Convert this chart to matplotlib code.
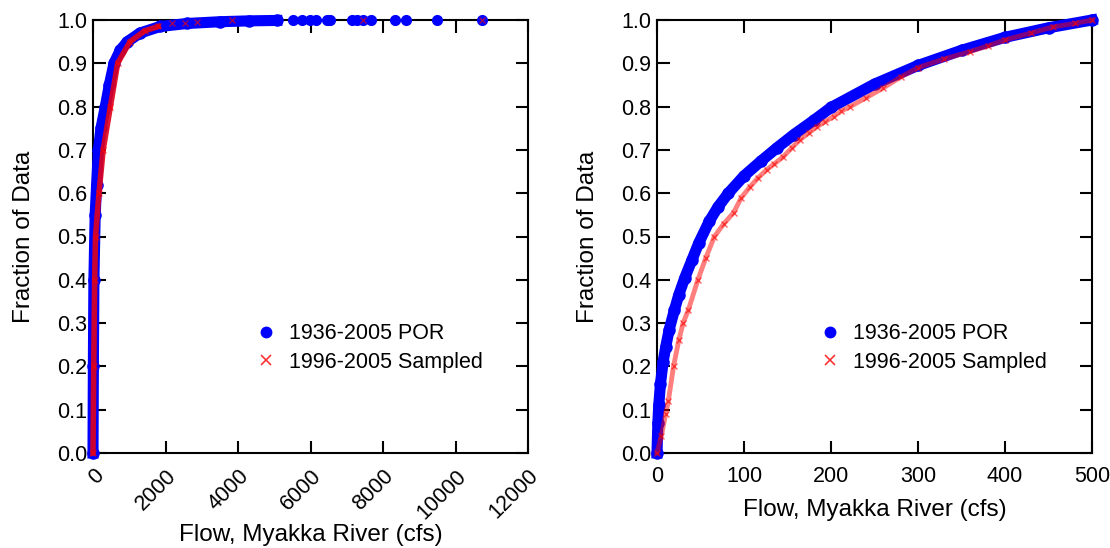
import matplotlib
matplotlib.use("Agg")
import matplotlib.pyplot as plt
from matplotlib.lines import Line2D

plt.rcParams['font.family'] = "Liberation Sans"
plt.rcParams['font.size'] = 15.5

# left panel: full range
por_flow = [0, 10, 25, 60, 100, 150, 220, 340, 450, 580, 750, 950, 1300, 1850, 2600, 3500, 4300, 5070]
por_frac = [0.0, 0.2, 0.4, 0.55, 0.62, 0.70, 0.75, 0.80, 0.85, 0.90, 0.93, 0.95, 0.97, 0.985, 0.992, 0.996, 0.998, 0.999]
por_tail_flow = [5526, 5757, 5986, 6152, 6447, 6538, 7137, 7274, 7457, 7661, 8331, 8634, 9481, 10739]
por_tail_frac = [1.0, 1.0, 1.0, 1.0, 1.0, 1.0, 1.0, 1.0, 1.0, 1.0, 1.0, 1.0, 1.0, 1.0]

smp_flow = [0, 20, 45, 70, 165, 280, 480, 680, 1020, 1430, 1800]
smp_frac = [0.0, 0.2, 0.4, 0.5, 0.6, 0.7, 0.8, 0.9, 0.95, 0.975, 0.985]
smp_tail_flow = [2170, 2540, 2860, 3830, 7457, 10739]
smp_tail_frac = [0.992, 0.994, 0.995, 0.999, 1.0, 1.0]

# right panel: flows up to 500 cfs
por_flow_500 = [0, 1, 2, 4, 7, 10, 14, 20, 25, 32, 40, 48, 60, 70, 82, 100, 120, 138,
                157, 180, 200, 250, 300, 350, 400, 450, 500]
por_frac_500 = [0.0, 0.07, 0.11, 0.16, 0.21, 0.245, 0.285, 0.33, 0.365, 0.405, 0.445, 0.485, 0.535,
                0.568, 0.60, 0.64, 0.675, 0.705, 0.735, 0.768, 0.798, 0.852, 0.895, 0.93, 0.96, 0.982, 1.0]
smp_flow_500 = [0, 5, 10, 13, 19, 25, 30, 36, 47, 56, 66, 77, 88, 97, 107, 116, 126, 135, 145,
                155, 164, 175, 184, 193, 203, 212, 222, 240, 260, 280, 300, 330, 360, 380, 400,
                430, 455, 480, 500]
smp_frac_500 = [0.0, 0.04, 0.09, 0.12, 0.20, 0.26, 0.30, 0.33, 0.40, 0.45, 0.50, 0.53, 0.555, 0.59,
                0.615, 0.635, 0.654, 0.668, 0.684, 0.705, 0.723, 0.74, 0.754, 0.765, 0.777, 0.79,
                0.80, 0.82, 0.843, 0.868, 0.89, 0.91, 0.927, 0.94, 0.954, 0.97, 0.984, 0.992, 1.0]

labels = ["1936-2005 POR", "1996-2005 Sampled"]
yticks = [0.0, 0.1, 0.2, 0.3, 0.4, 0.5, 0.6, 0.7, 0.8, 0.9, 1.0]

fig = plt.figure(figsize=(11.1, 5.48), dpi=100)
ax1 = fig.add_axes([93 / 1110, 95 / 548, 435 / 1110, 433 / 548])
ax2 = fig.add_axes([657 / 1110, 95 / 548, 435 / 1110, 433 / 548])

blue = "#0000ff"
red = "#ff0000"

# left
ax1.plot(por_flow, por_frac, "-o", color=blue, lw=8, ms=8, clip_on=False, zorder=3)
ax1.plot(por_tail_flow, por_tail_frac, "o", color=blue, ms=7, clip_on=False, zorder=3)
ax1.plot(smp_flow, smp_frac, "-", color="#e0001a", lw=4, alpha=0.9, clip_on=False, zorder=4)
ax1.plot(smp_flow, smp_frac, "x", color=red, ms=5, alpha=0.6, clip_on=False, zorder=4)
ax1.plot(smp_tail_flow, smp_tail_frac, "x", color=red, ms=5, alpha=0.6, clip_on=False, zorder=4)
ax1.set_xlim(0, 12000)
ax1.set_xticks(range(0, 12001, 2000))
plt.setp(ax1.get_xticklabels(), rotation=45, ha="right", va="top", rotation_mode="anchor")

# right
ax2.plot(por_flow_500, por_frac_500, "-o", color=blue, lw=8, ms=8, clip_on=False, zorder=3)
ax2.plot(smp_flow_500, smp_frac_500, "-", color=red, lw=3.5, alpha=0.5, clip_on=False, zorder=4)
ax2.plot(smp_flow_500, smp_frac_500, "x", color=red, ms=5, alpha=0.6, clip_on=False, zorder=4)
ax2.set_xlim(0, 500)
ax2.set_xticks(range(0, 501, 100))

handles = [Line2D([], [], marker="o", ls="none", color=blue, ms=7.5),
           Line2D([], [], marker="x", ls="none", color=red, ms=7, mew=1.2, alpha=0.8)]

for ax in (ax1, ax2):
    ax.set_ylim(0, 1)
    ax.set_yticks(yticks)
    ax.set_yticklabels(["%.1f" % v for v in yticks])
    ax.tick_params(direction="in", top=True, right=True, length=9, width=1.5)
    ax.tick_params(axis="y", pad=4)
    ax.tick_params(axis="x", pad=9)
    for s in ax.spines.values():
        s.set_linewidth(1.5)
    ax.set_ylabel("Fraction of Data", fontsize=17.5, labelpad=16)
    ax.legend(handles, labels, loc="upper left", bbox_to_anchor=(0.372, 0.30),
              frameon=False, handlelength=1.0, handletextpad=0.6, borderpad=0,
              borderaxespad=0, labelspacing=0.35, fontsize=15.5)

ax1.set_xlabel("Flow, Myakka River (cfs)", fontsize=17.5, labelpad=1)
ax2.set_xlabel("Flow, Myakka River (cfs)", fontsize=17.5, labelpad=9)

fig.savefig("out.png", dpi=100)
